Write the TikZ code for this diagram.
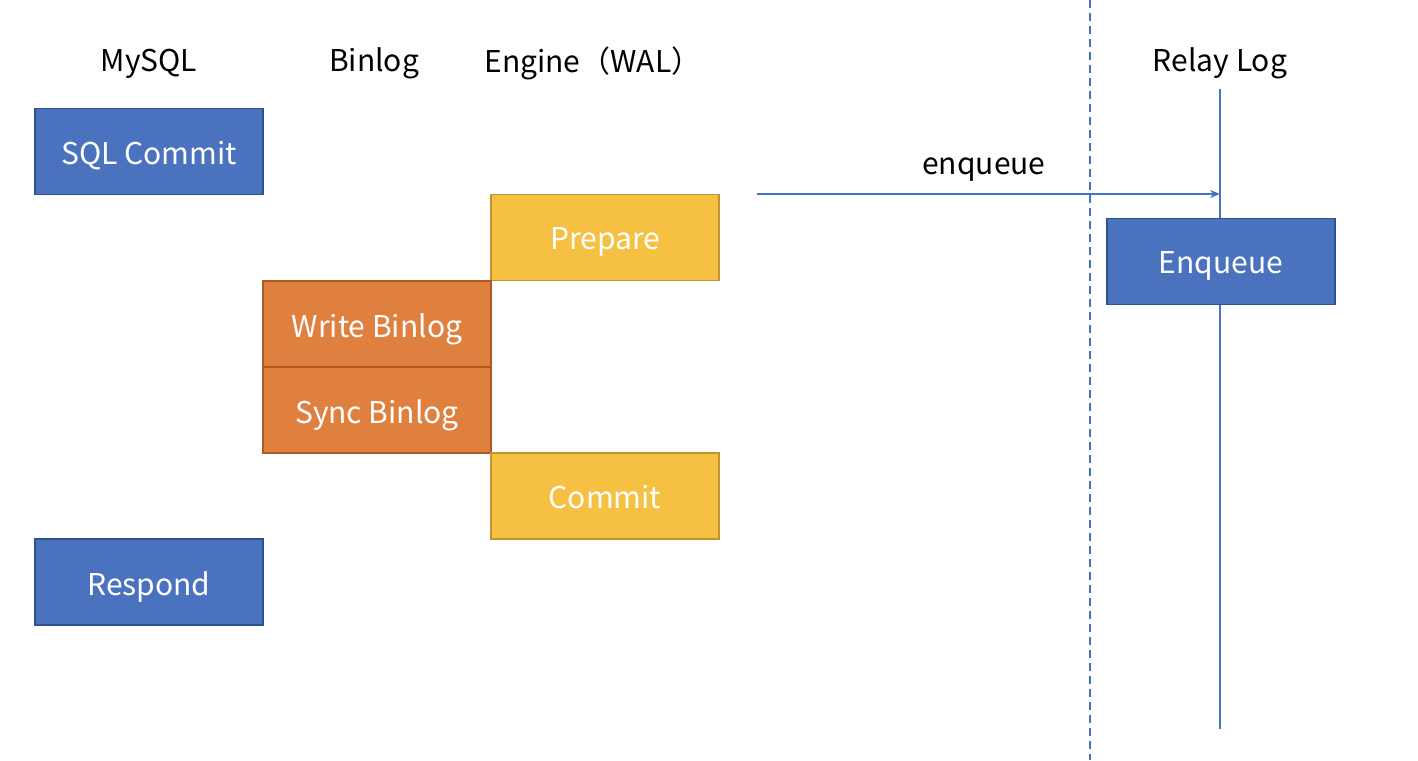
\documentclass[tikz,border=0pt]{standalone}
\usepackage{fontspec}
\setmainfont{Noto Sans CJK SC}
\usetikzlibrary{arrows.meta}
\definecolor{bfill}{HTML}{4A72BF}
\definecolor{bdraw}{HTML}{2F528F}
\definecolor{ofill}{HTML}{E0803F}
\definecolor{odraw}{HTML}{AE5A21}
\definecolor{yfill}{HTML}{F6C143}
\definecolor{ydraw}{HTML}{BF9530}
\definecolor{lblue}{HTML}{4472C4}
\tikzset{
  box/.style={draw, line width=1.6pt, minimum width=228pt, minimum height=86pt, inner sep=0pt, text=white, font=\fontsize{30}{36}\selectfont},
  bluebox/.style={box, fill=bfill, draw=bdraw},
  orangebox/.style={box, fill=ofill, draw=odraw},
  yellowbox/.style={box, fill=yfill, draw=ydraw},
  head/.style={text=black, inner sep=0pt, font=\fontsize{30}{36}\selectfont},
  lifeline/.style={draw=lblue, line width=1.5pt},
}
\begin{document}
\begin{tikzpicture}[x=1pt,y=-1pt]
\useasboundingbox (0,0) rectangle (1418,760);
% headers
\node[head] (hmysql) at (149,63.5) {MySQL};
\node[head] (hbinlog) at (374,63.5) {Binlog};
\node[head] (hengine) at (593,63.5) {Engine（WAL）};
\node[head] (hrelay) at (1220,63.5) {Relay Log};
% dashed separator
\coordinate (dtop) at (1090,0);
\coordinate (dbot) at (1090,760);
\draw[draw=lblue, line width=1.5pt, dash pattern=on 8pt off 5pt] (dtop) -- (dbot);
% relay log lifeline
\coordinate (rtop) at (1220,89);
\coordinate (rbot) at (1220,729);
\draw[lifeline] (rtop) -- (rbot);
% boxes
\tikzset{box/.append style={text depth=0pt, yshift=0pt}}
\node[bluebox] (sqlcommit) at (149,151.5) {\raisebox{-2.5pt}{SQL Commit}};
\node[bluebox] (respond) at (149,582) {\raisebox{-2.5pt}{Respond}};
\node[yellowbox] (prepare) at (605,237.5) {\raisebox{-2.5pt}{Prepare}};
\node[orangebox] (writebinlog) at (377,324) {\raisebox{-2.5pt}{Write Binlog}};
\node[orangebox] (syncbinlog) at (377,410) {\raisebox{-2.5pt}{Sync Binlog}};
\node[yellowbox] (commit) at (605,496) {\raisebox{-2.5pt}{Commit}};
\node[bluebox] (enqueue) at (1221,261.5) {\raisebox{-2.5pt}{Enqueue}};
% arrow
\coordinate (astart) at (757,194);
\coordinate (aend) at (1220,194);
\draw[lifeline, -{Stealth[length=10pt,width=8pt]}] (astart) -- node[pos=0.49, above=12pt, head] (elabel) {enqueue} (aend);
\end{tikzpicture}
\end{document}
